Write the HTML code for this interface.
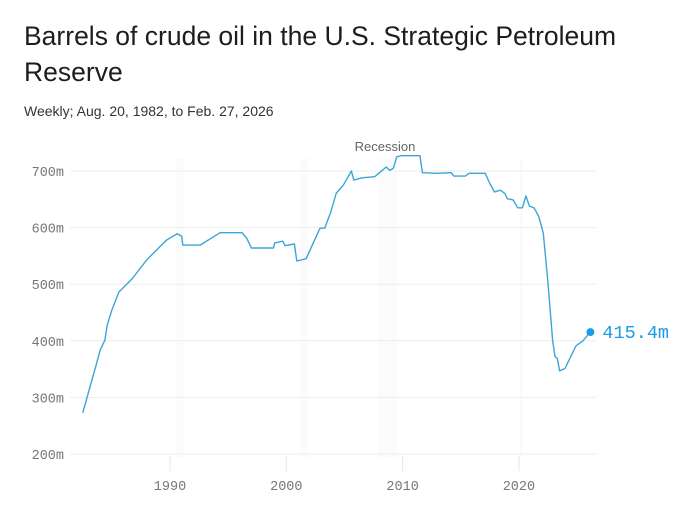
<!DOCTYPE html>
<html><head><meta charset="utf-8"><style>
body{margin:0;background:#fff;width:700px;height:515px;overflow:hidden;font-family:"Liberation Sans",sans-serif}
h1{position:absolute;left:24px;top:18px;margin:0;font-size:26.5px;font-weight:400;line-height:36px;color:#1d1d1d;width:660px}
.sub{position:absolute;left:24px;top:103px;font-size:14px;color:#333}
</style></head><body>
<h1>Barrels of crude oil in the U.S. Strategic Petroleum Reserve</h1>
<div class="sub">Weekly; Aug. 20, 1982, to Feb. 27, 2026</div>
<svg id="chart" width="700" height="515" style="position:absolute;left:0;top:0"></svg>
<script>
const years=[1982.5,1983.7,1984.0,1984.4,1984.6,1985.0,1985.6,1986.8,1988.0,1989.7,1990.6,1991.0,1991.1,1992.6,1994.3,1996.2,1996.6,1997.0,1998.9,1999.0,1999.7,1999.9,2000.7,2000.9,2001.7,2002.9,2003.3,2003.8,2004.3,2004.9,2005.6,2005.8,2006.5,2007.6,2008.6,2008.9,2009.2,2009.5,2009.9,2011.5,2011.7,2012.9,2014.2,2014.4,2015.4,2015.7,2017.1,2017.5,2017.9,2018.4,2018.8,2019.0,2019.5,2019.9,2020.3,2020.6,2020.9,2021.3,2021.7,2022.1,2022.5,2022.9,2023.1,2023.3,2023.5,2023.96,2024.9,2025.5,2026.15];
const values=[273,361,384,401,428,454,486,511,543,578,589,585,569,569,591,591,581,564,564,573,576,568,571,541,545,599,599,626,661,675,700,684,688,690,707,701,705,725,727,727,697,696,697,691,691,696,696,678,663,666,660,651,649,635,635,656,638,635,620,590,502,401,372,369,347,351,391,400,415.4];
const yTicks=[200,300,400,500,600,700];
const xTicks=[1990,2000,2010,2020];
const recessions=[[1990.55,1991.2],[2001.2,2001.9],[2007.95,2009.5],[2020.1,2020.35]];
const endLabel="415.4m";
const svg=document.getElementById('chart'),NS='http://www.w3.org/2000/svg';
const X=y=>170+(y-1990)*11.63, Y=v=>171+(700-v)*0.566;
function el(t,a){const e=document.createElementNS(NS,t);for(const k in a)e.setAttribute(k,a[k]);svg.appendChild(e);return e;}
recessions.forEach(r=>{const e=el('rect',{x:X(r[0]),y:158,width:X(r[1])-X(r[0]),height:300,fill:'#fbfbfb'});

});
const rl=el('text',{x:385,y:151,'text-anchor':'middle','font-size':13,fill:'#666','font-family':'Liberation Sans,sans-serif'});rl.textContent='Recession';


yTicks.forEach(v=>{const g=el('line',{x1:70,x2:596,y1:Y(v),y2:Y(v),stroke:'#ededed','stroke-width':1});


const t=el('text',{x:64,y:Y(v)+5,'text-anchor':'end','font-size':13.5,fill:'#777','font-family':'Liberation Mono,monospace'});t.textContent=v+'m';

});
xTicks.forEach(y=>{const m=el('line',{x1:X(y),x2:X(y),y1:456,y2:471,stroke:'#e6e6e6','stroke-width':1});


const t=el('text',{x:X(y),y:490,'text-anchor':'middle','font-size':13.5,fill:'#777','font-family':'Liberation Mono,monospace'});t.textContent=y;

});
const p=el('polyline',{points:years.map((y,i)=>X(y).toFixed(1)+','+Y(values[i]).toFixed(1)).join(' '),fill:'none',stroke:'#3ba5d9','stroke-width':1.4,'stroke-linejoin':'round'});


const n=years.length-1;
const d=el('circle',{cx:X(years[n]),cy:Y(values[n]),r:4,fill:'#1a9be6'});


const lt=el('text',{x:X(years[n])+12,y:Y(values[n])+6,'font-size':18.5,fill:'#1a9be6','font-family':'Liberation Mono,monospace'});lt.textContent=endLabel;


</script>
</body></html>
